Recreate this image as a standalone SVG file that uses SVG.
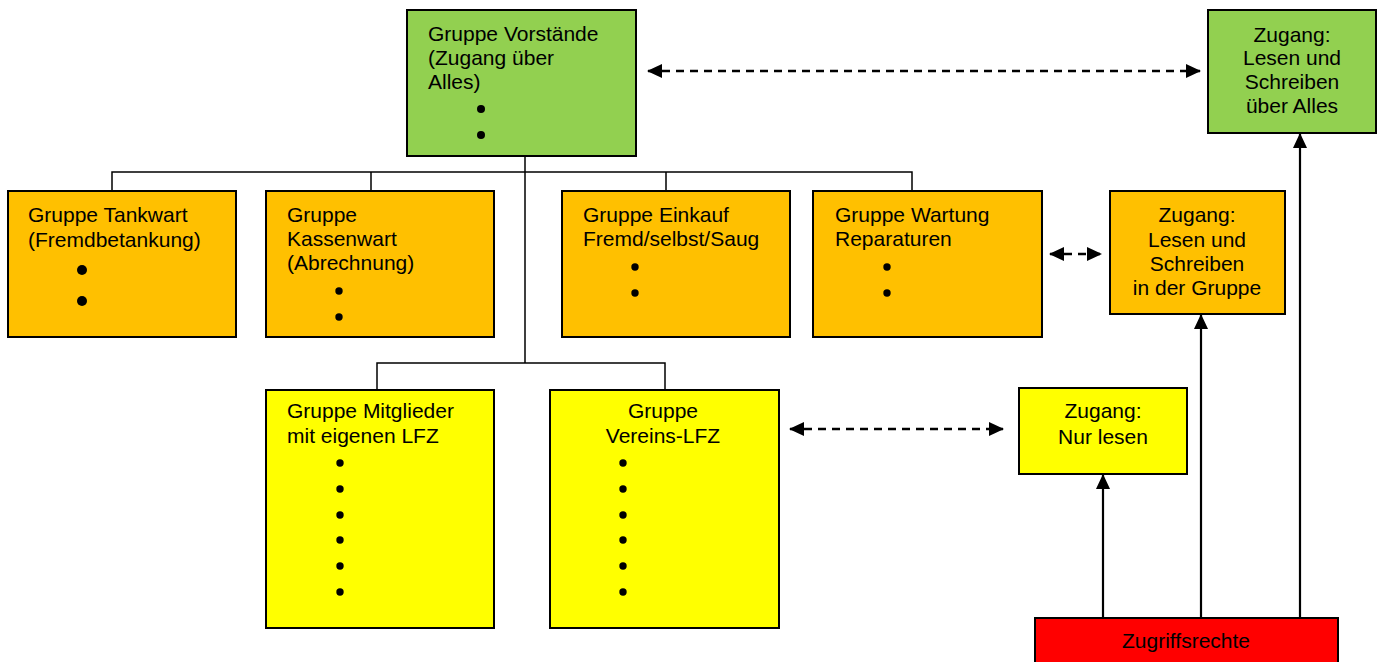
<svg xmlns="http://www.w3.org/2000/svg" width="1382" height="662" viewBox="0 0 1382 662">
<style>
.box{stroke:#000;stroke-width:2}
.green{fill:#92D050}
.orange{fill:#FFC000}
.yellow{fill:#FFFF00}
.red{fill:#FF0000}
text{font-family:"Liberation Sans",Arial,sans-serif;font-size:21px;fill:#000}
.c{text-anchor:middle}
.tree{stroke:#000;stroke-width:1.5;fill:none}
.arr{stroke:#000;stroke-width:2.2;fill:none}
.dash{stroke-width:2.6;stroke-dasharray:8,6}
</style>
<defs>
<marker id="ah" viewBox="0 0 15 14" refX="14" refY="7" markerWidth="15" markerHeight="14" markerUnits="userSpaceOnUse" orient="auto-start-reverse">
<path d="M0,0 L15,7 L0,14 z" fill="#000" stroke="none"/>
</marker>
</defs>
<rect width="1382" height="662" fill="#fff"/>
<g id="connectors">
<path class="tree" d="M525,156 V363 M112,191 V172 H912 V191 M371,172 V191 M666,172 V191 M377,390 V363 H665 V390"/>
<path class="arr dash" d="M648,71 H1200" marker-start="url(#ah)" marker-end="url(#ah)"/>
<path class="arr dash" d="M1050,254 H1101" marker-start="url(#ah)" marker-end="url(#ah)"/>
<path class="arr dash" d="M790,429 H1003" marker-start="url(#ah)" marker-end="url(#ah)"/>
<path class="arr" d="M1103,618 V475" marker-end="url(#ah)"/>
<path class="arr" d="M1201,618 V315" marker-end="url(#ah)"/>
<path class="arr" d="M1300,618 V134" marker-end="url(#ah)"/>
</g>
<g id="vorstaende">
<rect class="box green" x="407" y="10" width="229" height="146"/>
<text x="428" y="41">Gruppe Vorstände</text>
<text x="428" y="65">(Zugang über</text>
<text x="428" y="89">Alles)</text>
<circle cx="481" cy="109" r="4"/>
<circle cx="481" cy="135" r="4"/>
</g>
<g id="zugang-alles">
<rect class="box green" x="1208" y="10" width="168" height="123"/>
<text class="c" x="1292" y="42">Zugang:</text>
<text class="c" x="1292" y="65">Lesen und</text>
<text class="c" x="1292" y="89">Schreiben</text>
<text class="c" x="1292" y="113">über Alles</text>
</g>
<g id="tankwart">
<rect class="box orange" x="8" y="191" width="228" height="146"/>
<text x="28" y="222">Gruppe Tankwart</text>
<text x="28" y="247">(Fremdbetankung)</text>
<circle cx="82" cy="270" r="5"/>
<circle cx="82" cy="301" r="5"/>
</g>
<g id="kassenwart">
<rect class="box orange" x="266" y="191" width="228" height="146"/>
<text x="287" y="222">Gruppe</text>
<text x="287" y="246">Kassenwart</text>
<text x="287" y="270">(Abrechnung)</text>
<circle cx="339" cy="291" r="3.7"/>
<circle cx="339" cy="317" r="3.7"/>
</g>
<g id="einkauf">
<rect class="box orange" x="562" y="191" width="228" height="146"/>
<text x="583" y="222">Gruppe Einkauf</text>
<text x="583" y="246">Fremd/selbst/Saug</text>
<circle cx="635" cy="267" r="3.7"/>
<circle cx="635" cy="293" r="3.7"/>
</g>
<g id="wartung">
<rect class="box orange" x="813" y="191" width="229" height="146"/>
<text x="835" y="222">Gruppe Wartung</text>
<text x="835" y="246">Reparaturen</text>
<circle cx="887" cy="267" r="3.7"/>
<circle cx="887" cy="293" r="3.7"/>
</g>
<g id="zugang-gruppe">
<rect class="box orange" x="1110" y="191" width="175" height="123"/>
<text class="c" x="1197" y="222">Zugang:</text>
<text class="c" x="1197" y="247">Lesen und</text>
<text class="c" x="1197" y="271">Schreiben</text>
<text class="c" x="1197" y="295">in der Gruppe</text>
</g>
<g id="mitglieder">
<rect class="box yellow" x="266" y="390" width="228" height="238"/>
<text x="287" y="418">Gruppe Mitglieder</text>
<text x="287" y="443">mit eigenen LFZ</text>
<circle cx="340" cy="463" r="3.7"/>
<circle cx="340" cy="489" r="3.7"/>
<circle cx="340" cy="515" r="3.7"/>
<circle cx="340" cy="540" r="3.7"/>
<circle cx="340" cy="566" r="3.7"/>
<circle cx="340" cy="592" r="3.7"/>
</g>
<g id="vereins">
<rect class="box yellow" x="550" y="390" width="229" height="238"/>
<text class="c" x="663" y="418">Gruppe</text>
<text class="c" x="663" y="443">Vereins-LFZ</text>
<circle cx="623" cy="463" r="3.7"/>
<circle cx="623" cy="489" r="3.7"/>
<circle cx="623" cy="515" r="3.7"/>
<circle cx="623" cy="540" r="3.7"/>
<circle cx="623" cy="566" r="3.7"/>
<circle cx="623" cy="592" r="3.7"/>
</g>
<g id="nur-lesen">
<rect class="box yellow" x="1019" y="388" width="168" height="86"/>
<text class="c" x="1103" y="418">Zugang:</text>
<text class="c" x="1103" y="444">Nur lesen</text>
</g>
<g id="zugriffsrechte">
<rect class="box red" x="1035" y="618" width="303" height="60"/>
<text class="c" x="1186" y="648">Zugriffsrechte</text>
</g>
</svg>
